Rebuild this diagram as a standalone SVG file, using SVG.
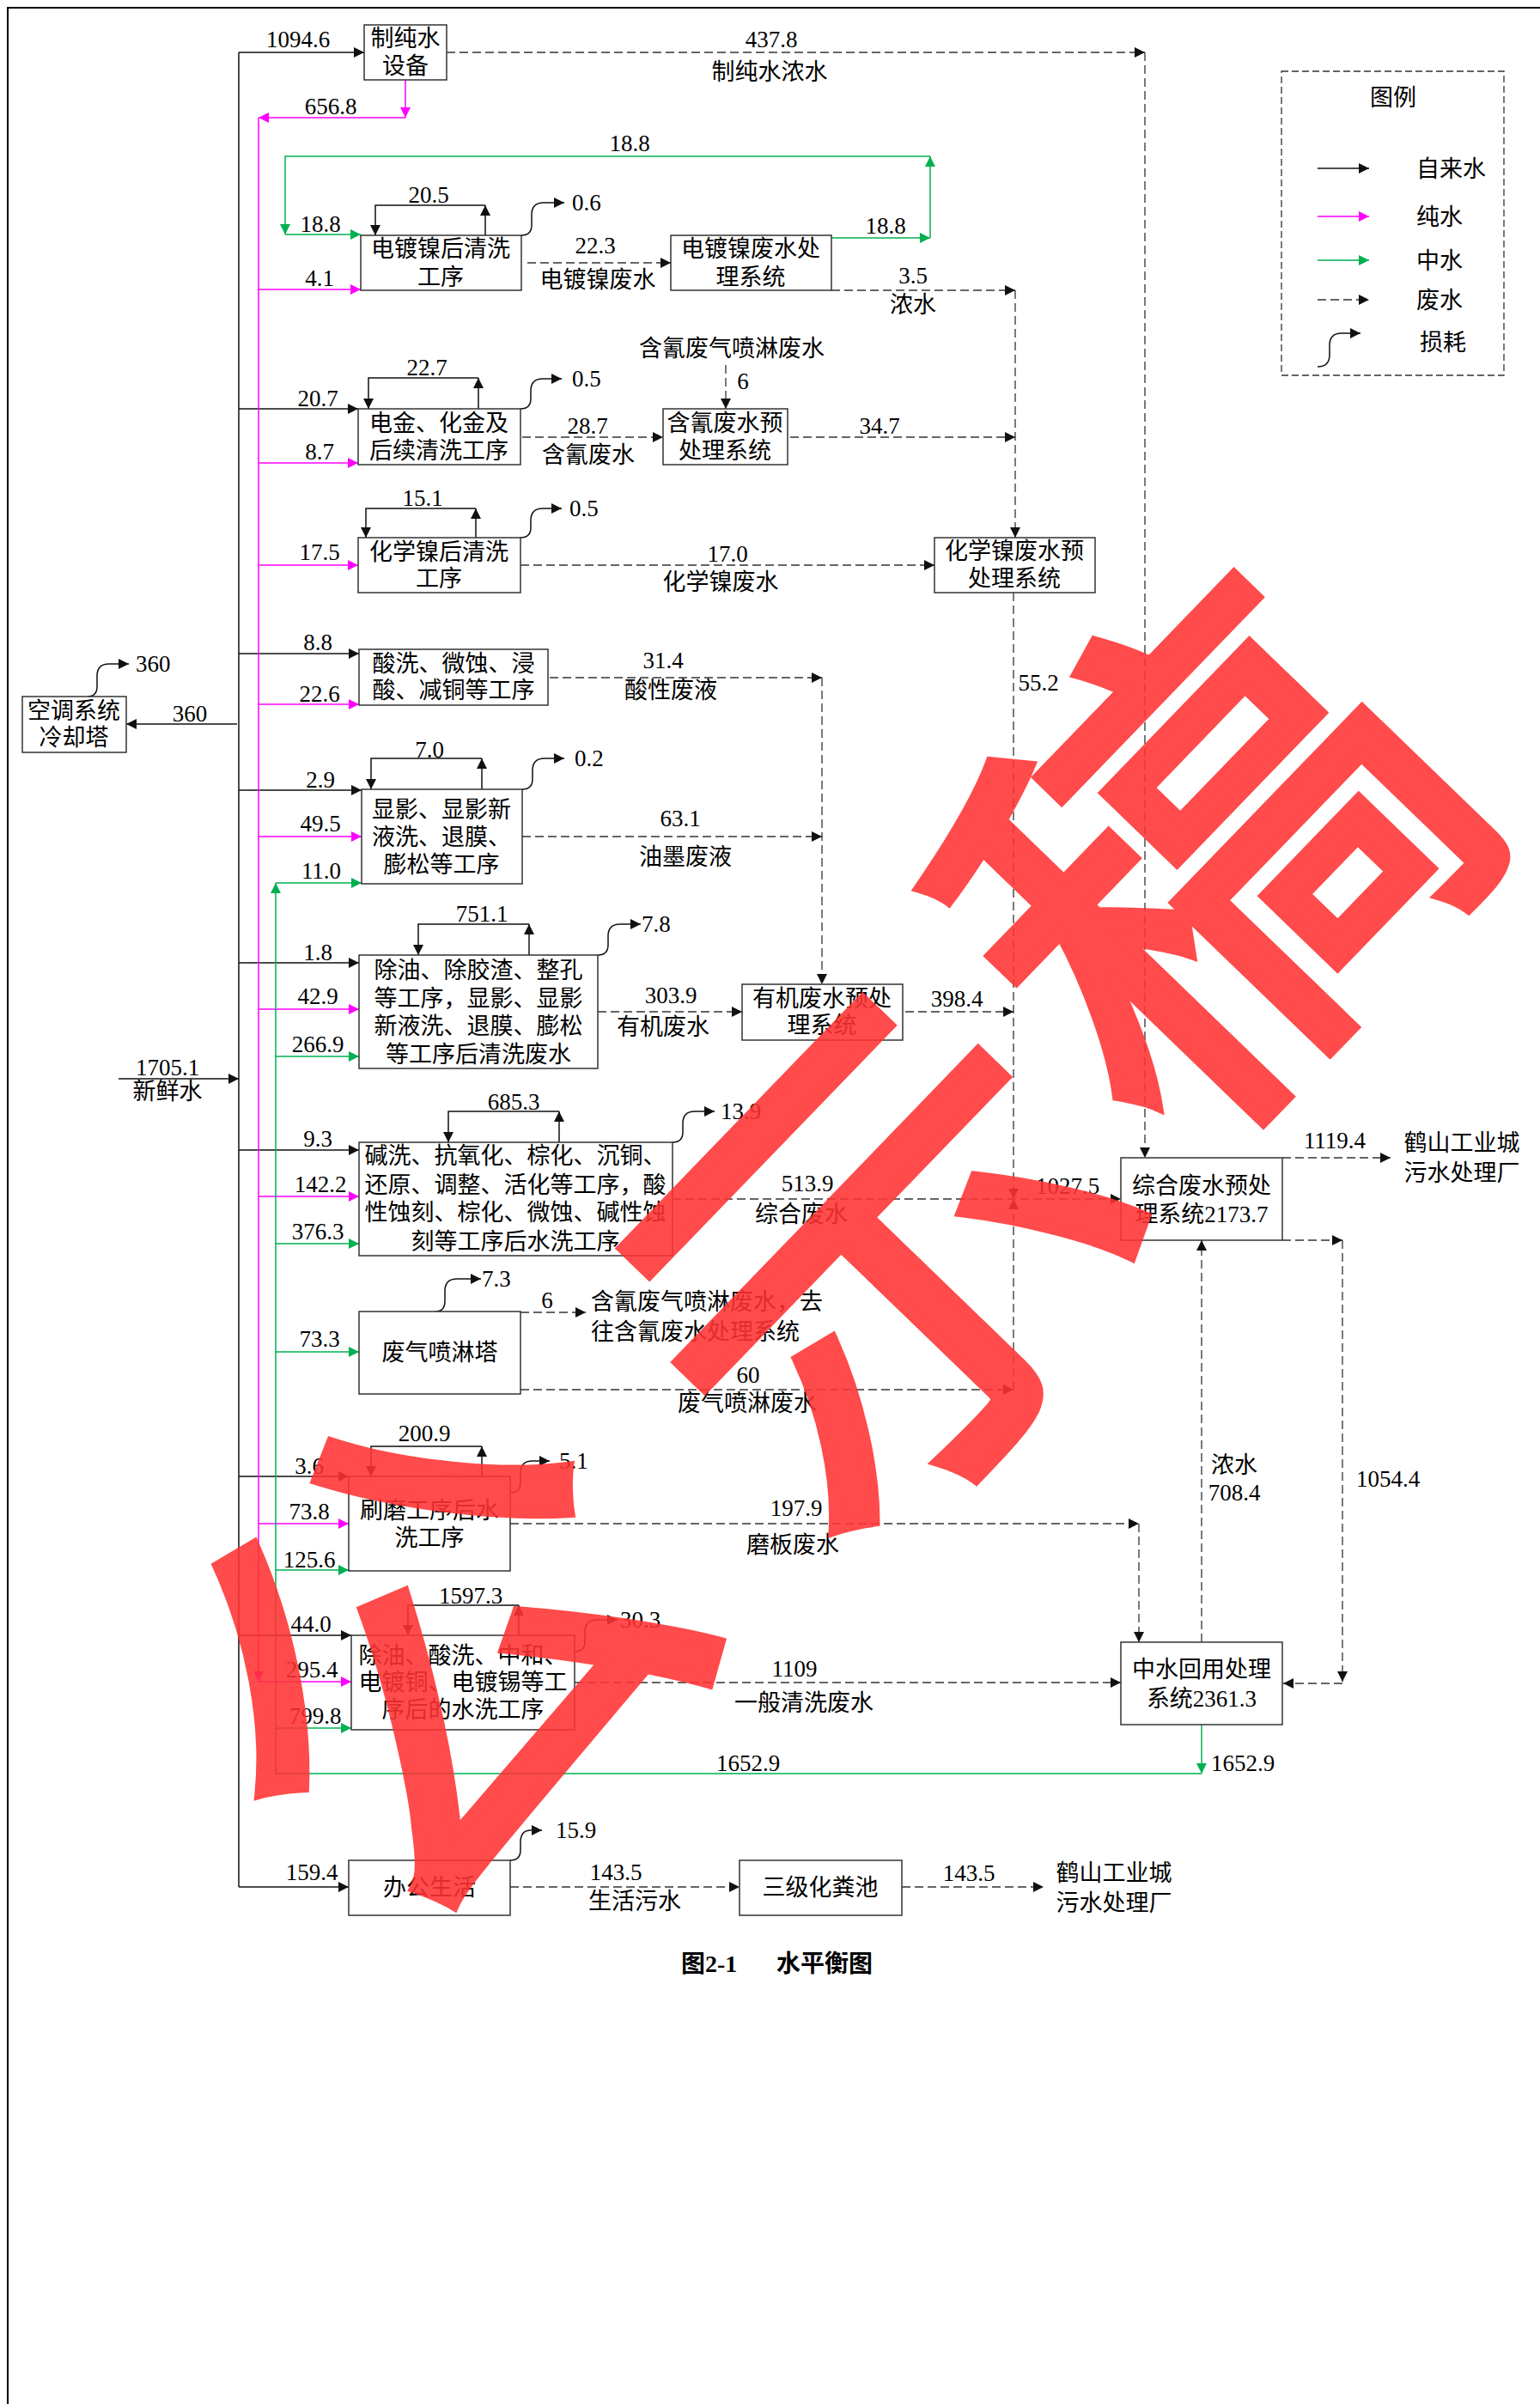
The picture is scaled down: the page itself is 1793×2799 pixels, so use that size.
<svg xmlns="http://www.w3.org/2000/svg" width="1793" height="2799" viewBox="0 0 1793 2799">
<style>
.bg{fill:#fff}
.box{fill:#fff;stroke:#333;stroke-width:1.5}
.t{font-family:"Liberation Serif","Noto Sans CJK SC",serif;font-size:27px;fill:#000}
.m{text-anchor:middle}
.k{fill:none;stroke:#111;stroke-width:1.5}
.ka{fill:none;stroke:#111;stroke-width:1.5;marker-end:url(#ab)}
.pa{fill:none;stroke:#FF00FF;stroke-width:1.5;marker-end:url(#am)}
.p{fill:none;stroke:#FF00FF;stroke-width:1.5}
.ga{fill:none;stroke:#00B050;stroke-width:1.5;marker-end:url(#ag)}
.g{fill:none;stroke:#00B050;stroke-width:1.5}
.d{fill:none;stroke:#333;stroke-width:1.3;stroke-dasharray:10 5}
.da{fill:none;stroke:#333;stroke-width:1.3;stroke-dasharray:10 5;marker-end:url(#ab)}
.cap{font-family:"Liberation Serif","Noto Sans CJK SC",serif;font-size:28px;font-weight:bold;fill:#000}
.wm{font-family:"Noto Sans CJK SC",sans-serif;font-size:570px;font-weight:normal;fill:#FF3333;stroke:#FF3333;stroke-width:14;opacity:0.88;text-anchor:middle;dominant-baseline:central}
</style>
<defs>
<marker id="ab" viewBox="0 0 12 12" refX="12" refY="6" markerWidth="12" markerHeight="12" markerUnits="userSpaceOnUse" orient="auto"><path d="M0,0 L12,6 L0,12 z" fill="#111"/></marker>
<marker id="am" viewBox="0 0 12 12" refX="12" refY="6" markerWidth="12" markerHeight="12" markerUnits="userSpaceOnUse" orient="auto"><path d="M0,0 L12,6 L0,12 z" fill="#FF00FF"/></marker>
<marker id="ag" viewBox="0 0 12 12" refX="12" refY="6" markerWidth="12" markerHeight="12" markerUnits="userSpaceOnUse" orient="auto"><path d="M0,0 L12,6 L0,12 z" fill="#00B050"/></marker>
</defs>
<rect class="bg" x="0" y="0" width="1793" height="2799"/>
<path d="M9,2799 V9 H1793" fill="none" stroke="#000" stroke-width="2"/>

<g id="connectors">
<!-- fresh water trunk -->
<path class="ka" d="M138,1256 H278"/>
<path class="k" d="M278,61 V2197"/>
<path class="ka" d="M278,61 H424"/>
<path class="ka" d="M278,476 H417"/>
<path class="ka" d="M278,761 H418"/>
<path class="ka" d="M276,843 H147"/>
<path class="ka" d="M278,920 H421"/>
<path class="ka" d="M278,1121 H418"/>
<path class="ka" d="M278,1339 H418"/>
<path class="ka" d="M278,1719 H406"/>
<path class="ka" d="M278,1904 H409"/>
<path class="ka" d="M278,2197 H406"/>
<!-- pure water -->
<path class="pa" d="M472,93 V137"/>
<path class="pa" d="M472,137 H301"/>
<path class="pa" d="M301,137 V1958"/>
<path class="pa" d="M301,337 H420"/>
<path class="pa" d="M301,539 H417"/>
<path class="pa" d="M301,658 H417"/>
<path class="pa" d="M301,820 H418"/>
<path class="pa" d="M301,974 H421"/>
<path class="pa" d="M301,1175 H418"/>
<path class="pa" d="M301,1393 H418"/>
<path class="pa" d="M301,1774 H406"/>
<path class="pa" d="M301,1958 H409"/>
<!-- reclaimed water top loop -->
<path class="ga" d="M968,277 H1083"/>
<path class="ga" d="M1083,277 V182"/>
<path class="ga" d="M1083,182 H332 V273"/>
<path class="ga" d="M332,273 H420"/>
<!-- reclaimed water bottom -->
<path class="ga" d="M1399,2008 V2065"/>
<path class="ga" d="M1399,2065 H321 V1028"/>
<path class="ga" d="M321,1028 H421"/>
<path class="ga" d="M321,1230 H418"/>
<path class="ga" d="M321,1448 H418"/>
<path class="ga" d="M321,1574 H418"/>
<path class="ga" d="M321,1828 H406"/>
<path class="ga" d="M321,2012 H409"/>
<!-- recycle loops -->
<path class="ka" d="M565,274 V239"/><path class="ka" d="M565,239 H437 V274"/>
<path class="ka" d="M557,476 V440"/><path class="ka" d="M557,440 H429 V476"/>
<path class="ka" d="M554,626 V592"/><path class="ka" d="M554,592 H426 V626"/>
<path class="ka" d="M561,919 V883"/><path class="ka" d="M561,883 H432 V919"/>
<path class="ka" d="M616,1112 V1076"/><path class="ka" d="M616,1076 H487 V1112"/>
<path class="ka" d="M651,1330 V1294"/><path class="ka" d="M651,1294 H522 V1330"/>
<path class="ka" d="M561,1719 V1684"/><path class="ka" d="M561,1684 H432 V1719"/>
<path class="ka" d="M604,1904 V1869"/><path class="ka" d="M604,1869 H475 V1904"/>
<!-- losses -->
<path class="ka" d="M607,274 Q619,274 619,262 L619,250 Q619,236 633,236 L657,236"/>
<path class="ka" d="M606,476 Q618,476 618,464 L618,455 Q618,441 632,441 L654,441"/>
<path class="ka" d="M606,626 Q618,626 618,614 L618,606 Q618,592 632,592 L654,592"/>
<path class="ka" d="M608,919 Q620,919 620,907 L620,897 Q620,883 634,883 L657,883"/>
<path class="ka" d="M696,1112 Q708,1112 708,1100 L708,1090 Q708,1076 722,1076 L746,1076"/>
<path class="ka" d="M783,1330 Q795,1330 795,1318 L795,1308 Q795,1294 809,1294 L832,1294"/>
<path class="ka" d="M507,1527 Q518,1527 518,1515 L518,1503 Q518,1489 532,1489 L560,1489"/>
<path class="ka" d="M594,1738 Q606,1738 606,1726 L606,1715 Q606,1701 620,1701 L640,1701"/>
<path class="ka" d="M669,1923 Q681,1923 681,1911 L681,1900 Q681,1886 695,1886 L719,1886"/>
<path class="ka" d="M594,2166 Q606,2166 606,2154 L606,2145 Q606,2131 618,2131 L631,2131"/>
<path class="ka" d="M102,811 Q113,811 113,799 L113,787 Q113,773 127,773 L150,773"/>
<!-- waste water -->
<path class="da" d="M520,61 H1333"/>
<path class="da" d="M1333,61 V1348"/>
<path class="da" d="M614,306 H781"/>
<path class="da" d="M968,338 H1182"/>
<path class="da" d="M1182,338 V626"/>
<path class="da" d="M845,425 V476"/>
<path class="da" d="M608,509 H772"/>
<path class="da" d="M920,509 H1182"/>
<path class="da" d="M606,658 H1088"/>
<path class="da" d="M1180,690 V1396"/>
<path class="da" d="M640,789 H957"/>
<path class="da" d="M957,789 V1146"/>
<path class="da" d="M608,974 H957"/>
<path class="da" d="M696,1178 H864"/>
<path class="da" d="M1054,1178 H1180"/>
<path class="da" d="M783,1396 H1305"/>
<path class="da" d="M1180,1618 V1396"/>
<path class="da" d="M606,1618 H1180"/>
<path class="da" d="M606,1528 H682"/>
<path class="da" d="M1493,1348 H1619"/>
<path class="da" d="M1493,1444 H1563"/>
<path class="da" d="M1563,1444 V1958"/>
<path class="da" d="M1563,1960 H1494"/>
<path class="da" d="M1399,1912 V1444"/>
<path class="da" d="M594,1774 H1326"/>
<path class="da" d="M1326,1774 V1912"/>
<path class="da" d="M669,1959 H1305"/>
<path class="da" d="M594,2197 H861"/>
<path class="da" d="M1050,2197 H1215"/>
</g>

<g id="labels" class="t">
<text class="m" x="347" y="55">1094.6</text>
<text class="m" x="898" y="55">437.8</text>
<text class="m" x="896" y="93">制纯水浓水</text>
<text class="m" x="385" y="133">656.8</text>
<text class="m" x="733" y="176">18.8</text>
<text class="m" x="373" y="270">18.8</text>
<text class="m" x="1031" y="272">18.8</text>
<text class="m" x="499" y="236">20.5</text>
<text x="666" y="245">0.6</text>
<text class="m" x="372" y="333">4.1</text>
<text class="m" x="693" y="295">22.3</text>
<text class="m" x="696" y="335">电镀镍废水</text>
<text class="m" x="1063" y="330">3.5</text>
<text class="m" x="1063" y="364">浓水</text>
<text class="m" x="852" y="415">含氰废气喷淋废水</text>
<text class="m" x="865" y="453">6</text>
<text class="m" x="370" y="473">20.7</text>
<text class="m" x="497" y="437">22.7</text>
<text x="666" y="450">0.5</text>
<text class="m" x="372" y="535">8.7</text>
<text class="m" x="684" y="505">28.7</text>
<text class="m" x="685" y="539">含氰废水</text>
<text class="m" x="1024" y="505">34.7</text>
<text class="m" x="492" y="589">15.1</text>
<text x="663" y="601">0.5</text>
<text class="m" x="372" y="652">17.5</text>
<text class="m" x="847" y="654">17.0</text>
<text class="m" x="839" y="687">化学镍废水</text>
<text class="m" x="1209" y="804">55.2</text>
<text class="m" x="370" y="757">8.8</text>
<text class="m" x="372" y="817">22.6</text>
<text class="m" x="772" y="778">31.4</text>
<text class="m" x="781" y="813">酸性废液</text>
<text class="m" x="221" y="840">360</text>
<text x="158" y="782">360</text>
<text class="m" x="500" y="882">7.0</text>
<text x="669" y="892">0.2</text>
<text class="m" x="373" y="917">2.9</text>
<text class="m" x="373" y="968">49.5</text>
<text class="m" x="374" y="1023">11.0</text>
<text class="m" x="792" y="962">63.1</text>
<text class="m" x="798" y="1007">油墨废液</text>
<text class="m" x="561" y="1073">751.1</text>
<text x="747" y="1085">7.8</text>
<text class="m" x="370" y="1118">1.8</text>
<text class="m" x="370" y="1169">42.9</text>
<text class="m" x="370" y="1225">266.9</text>
<text class="m" x="781" y="1168">303.9</text>
<text class="m" x="772" y="1205">有机废水</text>
<text class="m" x="1114" y="1172">398.4</text>
<text class="m" x="195" y="1252">1705.1</text>
<text class="m" x="195" y="1280">新鲜水</text>
<text class="m" x="598" y="1292">685.3</text>
<text x="839" y="1303">13.9</text>
<text class="m" x="370" y="1335">9.3</text>
<text class="m" x="1554" y="1337">1119.4</text>
<text class="m" x="1702" y="1340">鹤山工业城</text>
<text class="m" x="1702" y="1375">污水处理厂</text>
<text class="m" x="373" y="1388">142.2</text>
<text class="m" x="940" y="1387">513.9</text>
<text class="m" x="933" y="1423">综合废水</text>
<text class="m" x="1243" y="1390">1027.5</text>
<text class="m" x="370" y="1443">376.3</text>
<text x="561" y="1498">7.3</text>
<text class="m" x="637" y="1523">6</text>
<text x="688" y="1525">含氰废气喷淋废水，去</text>
<text x="688" y="1560">往含氰废水处理系统</text>
<text class="m" x="372" y="1568">73.3</text>
<text class="m" x="871" y="1610">60</text>
<text class="m" x="870" y="1643">废气喷淋废水</text>
<text class="m" x="494" y="1678">200.9</text>
<text x="651" y="1710">5.1</text>
<text class="m" x="360" y="1716">3.6</text>
<text class="m" x="1437" y="1715">浓水</text>
<text class="m" x="1437" y="1747">708.4</text>
<text class="m" x="1616" y="1731">1054.4</text>
<text class="m" x="927" y="1765">197.9</text>
<text class="m" x="923" y="1808">磨板废水</text>
<text class="m" x="360" y="1769">73.8</text>
<text class="m" x="360" y="1825">125.6</text>
<text class="m" x="548" y="1867">1597.3</text>
<text x="722" y="1895">30.3</text>
<text class="m" x="362" y="1900">44.0</text>
<text class="m" x="925" y="1952">1109</text>
<text class="m" x="936" y="1992">一般清洗废水</text>
<text class="m" x="363" y="1953">295.4</text>
<text class="m" x="367" y="2007">799.8</text>
<text class="m" x="871" y="2062">1652.9</text>
<text x="1410" y="2062">1652.9</text>
<text x="647" y="2140">15.9</text>
<text class="m" x="363" y="2189">159.4</text>
<text class="m" x="717" y="2189">143.5</text>
<text class="m" x="739" y="2223">生活污水</text>
<text class="m" x="1128" y="2190">143.5</text>
<text class="m" x="1297" y="2190">鹤山工业城</text>
<text class="m" x="1297" y="2225">污水处理厂</text>
</g>

<g id="n-zcs"><rect class="box" x="424" y="29" width="96" height="64"/><text class="t m" x="472" y="54">制纯水</text><text class="t m" x="472" y="86">设备</text></g>
<g id="n-ddnqx"><rect class="box" x="420" y="274" width="187" height="64"/><text class="t m" x="513" y="299">电镀镍后清洗</text><text class="t m" x="513" y="332">工序</text></g>
<g id="n-ddnfs"><rect class="box" x="781" y="274" width="187" height="64"/><text class="t m" x="874" y="299">电镀镍废水处</text><text class="t m" x="874" y="332">理系统</text></g>
<g id="n-djhj"><rect class="box" x="417" y="476" width="189" height="65"/><text class="t m" x="511" y="502">电金、化金及</text><text class="t m" x="511" y="534">后续清洗工序</text></g>
<g id="n-hqfs"><rect class="box" x="772" y="476" width="145" height="65"/><text class="t m" x="844" y="502">含氰废水预</text><text class="t m" x="844" y="534">处理系统</text></g>
<g id="n-hxnqx"><rect class="box" x="417" y="626" width="189" height="64"/><text class="t m" x="511" y="652">化学镍后清洗</text><text class="t m" x="511" y="683">工序</text></g>
<g id="n-hxnfs"><rect class="box" x="1088" y="626" width="187" height="64"/><text class="t m" x="1181" y="651">化学镍废水预</text><text class="t m" x="1181" y="683">处理系统</text></g>
<g id="n-sx"><rect class="box" x="418" y="756" width="220" height="65"/><text class="t m" x="528" y="782">酸洗、微蚀、浸</text><text class="t m" x="528" y="813">酸、减铜等工序</text></g>
<g id="n-kt"><rect class="box" x="26" y="811" width="121" height="65"/><text class="t m" x="86" y="837">空调系统</text><text class="t m" x="86" y="868">冷却塔</text></g>
<g id="n-xy"><rect class="box" x="421" y="919" width="187" height="110"/><text class="t m" x="514" y="952">显影、显影新</text><text class="t m" x="514" y="984">液洗、退膜、</text><text class="t m" x="514" y="1016">膨松等工序</text></g>
<g id="n-cy1"><rect class="box" x="418" y="1112" width="278" height="132"/><text class="t m" x="557" y="1139">除油、除胶渣、整孔</text><text class="t m" x="557" y="1172">等工序，显影、显影</text><text class="t m" x="557" y="1204">新液洗、退膜、膨松</text><text class="t m" x="557" y="1237">等工序后清洗废水</text></g>
<g id="n-yjfs"><rect class="box" x="864" y="1146" width="187" height="65"/><text class="t m" x="957" y="1172">有机废水预处</text><text class="t m" x="957" y="1203">理系统</text></g>
<g id="n-jx"><rect class="box" x="418" y="1330" width="365" height="132"/><text class="t m" x="600" y="1355">碱洗、抗氧化、棕化、沉铜、</text><text class="t m" x="600" y="1389">还原、调整、活化等工序，酸</text><text class="t m" x="600" y="1421">性蚀刻、棕化、微蚀、碱性蚀</text><text class="t m" x="600" y="1455">刻等工序后水洗工序</text></g>
<g id="n-fqpl"><rect class="box" x="418" y="1527" width="188" height="96"/><text class="t m" x="512" y="1584">废气喷淋塔</text></g>
<g id="n-zhfs"><rect class="box" x="1305" y="1348" width="188" height="96"/><text class="t m" x="1399" y="1390">综合废水预处</text><text class="t m" x="1399" y="1423">理系统2173.7</text></g>
<g id="n-sm"><rect class="box" x="406" y="1719" width="188" height="110"/><text class="t m" x="500" y="1768">刷磨工序后水</text><text class="t m" x="500" y="1800">洗工序</text></g>
<g id="n-cy2"><rect class="box" x="409" y="1904" width="260" height="110"/><text class="t m" x="539" y="1937">除油、酸洗、中和、</text><text class="t m" x="539" y="1968">电镀铜、电镀锡等工</text><text class="t m" x="539" y="2000">序后的水洗工序</text></g>
<g id="n-zshy"><rect class="box" x="1305" y="1912" width="188" height="96"/><text class="t m" x="1399" y="1953">中水回用处理</text><text class="t m" x="1399" y="1987">系统2361.3</text></g>
<g id="n-bgsh"><rect class="box" x="406" y="2166" width="188" height="64"/><text class="t m" x="500" y="2207">办公生活</text></g>
<g id="n-hfc"><rect class="box" x="861" y="2166" width="189" height="64"/><text class="t m" x="955" y="2207">三级化粪池</text></g>

<g id="legend">
<rect x="1492" y="83" width="259" height="354" fill="none" stroke="#333" stroke-width="1.3" stroke-dasharray="8 4"/>
<text class="t m" x="1622" y="123">图例</text>
<path class="ka" d="M1534,196 H1594"/><text class="t" x="1649" y="206">自来水</text>
<path class="pa" d="M1534,252 H1594"/><text class="t" x="1649" y="262">纯水</text>
<path class="ga" d="M1534,303 H1594"/><text class="t" x="1649" y="313">中水</text>
<path class="da" d="M1534,349 H1594"/><text class="t" x="1649" y="359">废水</text>
<path class="ka" d="M1534,427 Q1548,427 1548,413 L1548,402 Q1548,388 1562,388 L1584,388"/><text class="t" x="1653" y="408">损耗</text>
</g>

<g id="caption">
<text class="cap" x="793" y="2296">图2-1</text>
<text class="cap" x="904" y="2296">水平衡图</text>
</g>

<g id="watermark">
<text class="wm" x="0" y="0" transform="translate(478,1900) rotate(-46)">公</text>
<text class="wm" x="0" y="0" transform="translate(1000,1440) rotate(-46)">示</text>
<text class="wm" x="0" y="0" transform="translate(1380,975) rotate(-46)">稿</text>
</g>
</svg>
